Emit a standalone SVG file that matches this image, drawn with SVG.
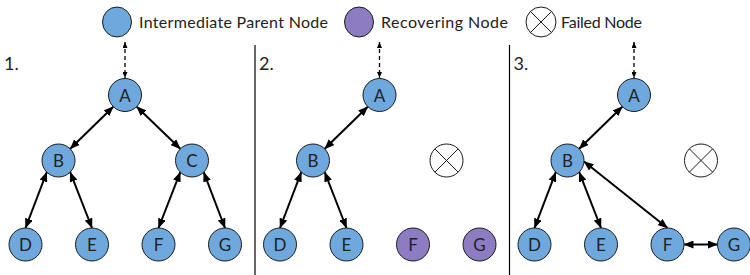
<svg xmlns="http://www.w3.org/2000/svg" width="750" height="275" viewBox="0 0 750 275">
<style>
  text { font-family: Lato, "Noto Sans", "Liberation Sans", sans-serif; fill: #222; font-weight: 400; }
  .lbl { font-size: 16px; }
  .nt { font-size: 17px; text-anchor: middle; dominant-baseline: central; }
  .num { font-size: 18px; }
  .blue { fill: #6fa8dc; stroke: #1a1a1a; stroke-width: 1; }
  .purple { fill: #8e7cc3; stroke: #1a1a1a; stroke-width: 1; }
  .failed { fill: #ffffff; stroke: #1a1a1a; stroke-width: 1; }
  .x { stroke: #1a1a1a; stroke-width: 1; }
  .edge { stroke: #000; stroke-width: 2; fill: none; marker-start: url(#arr); marker-end: url(#arr); }
  .dash { stroke: #000; stroke-width: 1.3; fill: none; stroke-dasharray: 4 3; marker-start: url(#sarr); marker-end: url(#sarr); }
  .div { stroke: #000; stroke-width: 1.2; }
</style>
<defs>
  <marker id="arr" viewBox="0 0 10 8" markerWidth="10" markerHeight="8" refX="9.5" refY="4" orient="auto-start-reverse" markerUnits="userSpaceOnUse">
    <path d="M0,0 L10,4 L0,8 z" fill="#000"/>
  </marker>
  <marker id="sarr" viewBox="0 0 6 5" markerWidth="6" markerHeight="5" refX="6" refY="2.5" orient="auto-start-reverse" markerUnits="userSpaceOnUse">
    <path d="M0,0 L6,2.5 L0,5 z" fill="#000"/>
  </marker>
</defs>

<g id="legend">
  <g id="legend-blue">
    <ellipse class="blue" cx="117" cy="22" rx="14.5" ry="15"/>
    <text class="lbl" x="139" y="28" textLength="189">Intermediate Parent Node</text>
  </g>
  <g id="legend-purple">
    <ellipse class="purple" cx="359" cy="22" rx="14.5" ry="15"/>
    <text class="lbl" x="381" y="28" textLength="127">Recovering Node</text>
  </g>
  <g id="legend-failed">
    <circle class="failed" cx="541" cy="22" r="15"/>
    <line class="x" x1="530.4" y1="11.4" x2="551.6" y2="32.6"/>
    <line class="x" x1="551.6" y1="11.4" x2="530.4" y2="32.6"/>
    <text class="lbl" x="561" y="28" textLength="81">Failed Node</text>
  </g>
</g>

<g id="dividers">
  <line class="div" x1="255" y1="45" x2="255" y2="275"/>
  <line class="div" x1="509.5" y1="45" x2="509.5" y2="275"/>
</g>

<!-- Panel 1 -->
<g id="panel1">
  <text class="num" x="4" y="70">1.</text>
  <g id="connectors1">
    <line class="dash" x1="125" y1="42" x2="125" y2="78"/>
    <line class="edge" x1="113.3" y1="106.7" x2="70.2" y2="148.8"/>
    <line class="edge" x1="136.7" y1="106.7" x2="180.3" y2="148.8"/>
    <line class="edge" x1="46.8" y1="172.2" x2="25.5" y2="228"/>
    <line class="edge" x1="70.2" y1="172.2" x2="92" y2="228"/>
    <line class="edge" x1="180.3" y1="172.2" x2="158.5" y2="228"/>
    <line class="edge" x1="203.7" y1="172.2" x2="225" y2="228"/>
  </g>
  <g id="p1-A"><circle class="blue" cx="125" cy="95" r="16.5"/><text class="nt" x="125" y="95">A</text></g>
  <g id="p1-B"><circle class="blue" cx="58.5" cy="160.5" r="16.5"/><text class="nt" x="58.5" y="160.5">B</text></g>
  <g id="p1-C"><circle class="blue" cx="192" cy="160.5" r="16.5"/><text class="nt" x="192" y="160.5">C</text></g>
  <g id="p1-D"><circle class="blue" cx="25.5" cy="244.5" r="16.5"/><text class="nt" x="25.5" y="244.5">D</text></g>
  <g id="p1-E"><circle class="blue" cx="92" cy="244.5" r="16.5"/><text class="nt" x="92" y="244.5">E</text></g>
  <g id="p1-F"><circle class="blue" cx="158.5" cy="244.5" r="16.5"/><text class="nt" x="158.5" y="244.5">F</text></g>
  <g id="p1-G"><circle class="blue" cx="225" cy="244.5" r="16.5"/><text class="nt" x="225" y="244.5">G</text></g>
</g>

<!-- Panel 2 -->
<g id="panel2" transform="translate(254.5,0)">
  <text class="num" x="4.5" y="70">2.</text>
  <g id="connectors2">
    <line class="dash" x1="125" y1="42" x2="125" y2="78"/>
    <line class="edge" x1="113.3" y1="106.7" x2="70.2" y2="148.8"/>
    <line class="edge" x1="46.8" y1="172.2" x2="25.5" y2="228"/>
    <line class="edge" x1="70.2" y1="172.2" x2="92" y2="228"/>
  </g>
  <g id="p2-A"><circle class="blue" cx="125" cy="95" r="16.5"/><text class="nt" x="125" y="95">A</text></g>
  <g id="p2-B"><circle class="blue" cx="58.5" cy="160.5" r="16.5"/><text class="nt" x="58.5" y="160.5">B</text></g>
  <g id="p2-C"><circle class="failed" cx="192" cy="160.5" r="16.5"/>
    <line class="x" x1="180.3" y1="148.8" x2="203.7" y2="172.2"/>
    <line class="x" x1="203.7" y1="148.8" x2="180.3" y2="172.2"/></g>
  <g id="p2-D"><circle class="blue" cx="25.5" cy="244.5" r="16.5"/><text class="nt" x="25.5" y="244.5">D</text></g>
  <g id="p2-E"><circle class="blue" cx="92" cy="244.5" r="16.5"/><text class="nt" x="92" y="244.5">E</text></g>
  <g id="p2-F"><circle class="purple" cx="158.5" cy="244.5" r="16.5"/><text class="nt" x="158.5" y="244.5">F</text></g>
  <g id="p2-G"><circle class="purple" cx="225" cy="244.5" r="16.5"/><text class="nt" x="225" y="244.5">G</text></g>
</g>

<!-- Panel 3 -->
<g id="panel3" transform="translate(509,0)">
  <text class="num" x="4.5" y="70">3.</text>
  <g id="connectors3">
    <line class="dash" x1="125" y1="42" x2="125" y2="78"/>
    <line class="edge" x1="113.3" y1="106.7" x2="70.2" y2="148.8"/>
    <line class="edge" x1="46.8" y1="172.2" x2="25.5" y2="228"/>
    <line class="edge" x1="70.2" y1="172.2" x2="92" y2="228"/>
    <line class="edge" x1="75" y1="161.5" x2="158.5" y2="228"/>
    <line class="edge" x1="175" y1="244.5" x2="208.5" y2="244.5"/>
  </g>
  <g id="p3-A"><circle class="blue" cx="125" cy="95" r="16.5"/><text class="nt" x="125" y="95">A</text></g>
  <g id="p3-B"><circle class="blue" cx="58.5" cy="160.5" r="16.5"/><text class="nt" x="58.5" y="160.5">B</text></g>
  <g id="p3-C"><circle class="failed" cx="192" cy="160.5" r="16.5"/>
    <line class="x" x1="180.3" y1="148.8" x2="203.7" y2="172.2"/>
    <line class="x" x1="203.7" y1="148.8" x2="180.3" y2="172.2"/></g>
  <g id="p3-D"><circle class="blue" cx="25.5" cy="244.5" r="16.5"/><text class="nt" x="25.5" y="244.5">D</text></g>
  <g id="p3-E"><circle class="blue" cx="92" cy="244.5" r="16.5"/><text class="nt" x="92" y="244.5">E</text></g>
  <g id="p3-F"><circle class="blue" cx="158.5" cy="244.5" r="16.5"/><text class="nt" x="158.5" y="244.5">F</text></g>
  <g id="p3-G"><circle class="blue" cx="225" cy="244.5" r="16.5"/><text class="nt" x="225" y="244.5">G</text></g>
</g>
</svg>
